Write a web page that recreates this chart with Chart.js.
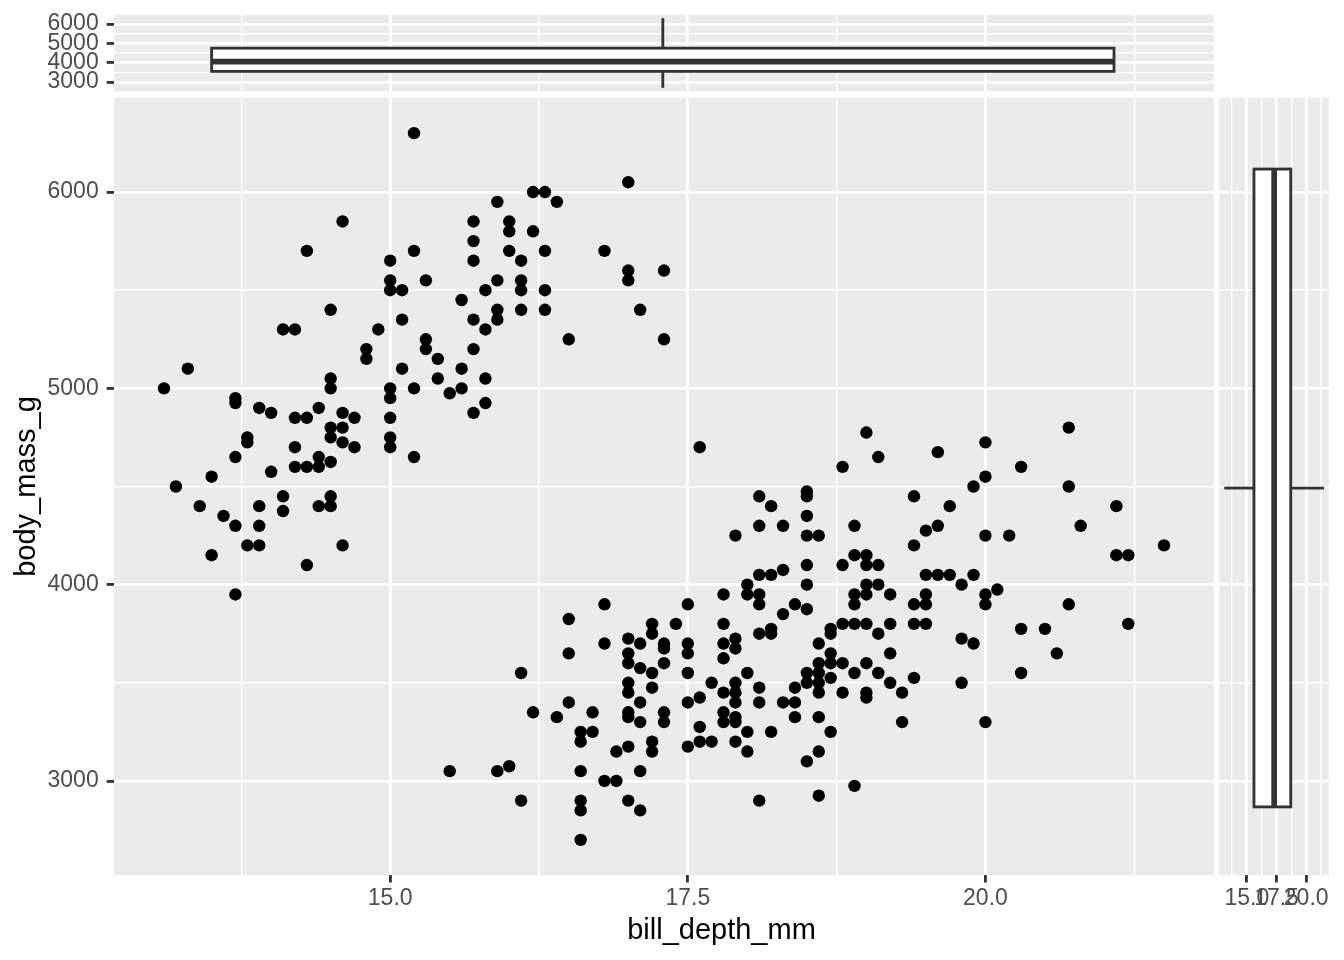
<!DOCTYPE html>
<html lang="en">
<head>
<meta charset="utf-8">
<title>bill_depth_mm / body_mass_g</title>
<script src="https://cdn.jsdelivr.net/npm/chart.js@4.4.1/dist/chart.umd.min.js"></script>
<style>
    html, body { margin: 0; padding: 0; background: #ffffff; }
    .stage { position: relative; width: 1344px; height: 960px; overflow: hidden; }
    .stage canvas { position: absolute; }
</style>
</head>
<body>
<div class="stage">
    <canvas id="topChart" width="1216" height="96" style="left:0;top:0"></canvas>
    <canvas id="mainChart" width="1216" height="864" style="left:0;top:96px"></canvas>
    <canvas id="rightChart" width="128" height="864" style="left:1216px;top:96px"></canvas>
</div>
<script>
// Scatter points (bill depth in mm, body mass in g)
const billDepth = [
    15.2, 14.6, 14.3, 15.2, 15.0, 15.0, 15.0, 15.1, 14.5, 15.1,
    14.1, 14.2, 14.9, 14.8, 14.8, 15.1, 14.5, 14.5, 15.0, 15.0,
    15.2, 13.3, 13.1, 13.7, 13.7, 13.9, 14.0, 14.2, 14.3, 14.4,
    14.6, 14.7, 14.5, 14.6, 14.5, 14.6, 14.7, 15.0, 15.0, 15.0,
    15.2, 13.8, 13.8, 13.7, 14.2, 14.4, 14.4, 14.5, 14.2, 14.3,
    14.0, 13.5, 13.2, 13.4, 13.6, 13.7, 13.9, 13.9, 13.8, 13.9,
    14.1, 14.1, 14.4, 14.5, 14.5, 14.6, 13.5, 14.3, 13.7,
    15.3, 15.3, 15.3, 15.4, 15.4, 15.5, 15.6, 15.6, 15.6, 15.7,
    15.7, 15.7, 15.7, 15.7, 15.7, 15.8, 15.8, 15.8, 15.8, 15.9,
    15.9, 15.9, 15.9, 16.0, 16.0, 16.0, 16.1, 16.1, 16.1, 16.1,
    16.2, 16.3, 16.2, 16.4, 16.3, 16.3, 16.3, 16.5, 16.8, 17.0,
    17.0, 17.0, 17.1, 17.3, 17.3, 17.6,
    16.8, 16.5, 17.2, 17.2, 17.4, 16.8, 17.0, 17.1, 17.3, 17.3,
    16.5, 17.0, 17.0, 17.1, 17.2, 17.3, 16.1, 17.0, 17.0, 17.2,
    17.1, 16.5, 16.2, 16.4, 16.7, 17.0, 17.0, 17.1, 17.3, 17.3,
    16.6, 16.6, 16.7, 16.9, 17.0, 17.2, 17.2, 15.5, 15.9, 16.0,
    16.6, 17.1, 16.8, 16.9, 16.1, 16.6, 16.6, 17.0, 17.1, 16.6,
    18.1, 18.2, 18.5, 18.5, 18.5, 18.1, 18.3, 17.9, 18.5, 18.6,
    18.5, 18.8, 18.1, 18.2, 18.3, 18.0, 18.0, 18.1, 18.1, 18.5,
    17.8, 17.5, 18.4, 18.5, 18.3, 17.8, 18.1, 18.2, 18.2, 18.8,
    18.7, 18.7, 17.8, 17.9, 17.9, 17.5, 17.5, 17.8, 18.6, 18.7,
    18.6, 18.7, 18.8, 17.5, 18.0, 18.5, 18.5, 18.6, 18.6, 18.6,
    18.7, 18.8, 17.7, 17.9, 17.9, 17.9, 17.8, 18.1, 18.4, 17.6,
    17.5, 18.1, 18.3, 18.4, 18.4, 18.6, 17.8, 17.8, 17.9, 17.9,
    17.6, 18.0, 18.2, 18.7, 17.5, 17.6, 17.7, 17.9, 18.0, 18.6,
    18.5, 18.1, 18.6,
    19.0, 19.1, 18.8, 19.6, 20.0, 20.0, 19.9, 19.4, 19.7, 18.9,
    19.5, 19.6, 19.4, 20.0, 18.9, 19.0, 19.0, 19.1, 19.5, 19.6,
    19.7, 19.9, 19.8, 20.1, 19.0, 19.1, 18.9, 18.9, 19.0, 19.2,
    19.5, 19.5, 19.4, 20.0, 20.0, 18.9, 19.0, 19.2, 19.4, 19.5,
    19.1, 19.8, 19.9, 19.2, 19.0, 18.9, 19.1, 19.4, 19.2, 19.8,
    19.0, 19.0, 19.3, 19.3, 20.0, 18.9,
    20.7, 20.3, 20.7, 21.1, 20.8, 20.2, 21.5, 21.1, 21.2, 20.7,
    20.3, 20.5, 21.2, 20.6, 20.3
];
const bodyMass = [
    6300, 5850, 5700, 5700, 5650, 5550, 5500, 5500, 5400, 5350,
    5300, 5300, 5300, 5200, 5150, 5100, 5050, 5000, 5000, 4950,
    5000, 5100, 5000, 4950, 4925, 4900, 4875, 4850, 4850, 4900,
    4875, 4850, 4800, 4800, 4750, 4725, 4700, 4850, 4750, 4700,
    4650, 4750, 4725, 4650, 4700, 4650, 4600, 4625, 4600, 4600,
    4575, 4550, 4500, 4400, 4350, 4300, 4400, 4300, 4200, 4200,
    4450, 4375, 4400, 4450, 4400, 4200, 4150, 4100, 3950,
    5550, 5250, 5200, 5150, 5050, 4975, 5100, 5000, 5450, 5850,
    5750, 5650, 5350, 5200, 4875, 5500, 5300, 5050, 4925, 5950,
    5550, 5400, 5350, 5850, 5800, 5700, 5650, 5550, 5500, 5400,
    6000, 6000, 5800, 5950, 5700, 5500, 5400, 5250, 5700, 6050,
    5600, 5550, 5400, 5600, 5250, 4700,
    3900, 3825, 3800, 3750, 3800, 3700, 3725, 3700, 3700, 3675,
    3650, 3650, 3600, 3575, 3550, 3600, 3550, 3500, 3450, 3475,
    3400, 3400, 3350, 3325, 3350, 3350, 3325, 3300, 3350, 3300,
    3250, 3200, 3250, 3150, 3175, 3200, 3150, 3050, 3050, 3075,
    3050, 3050, 3000, 3000, 2900, 2900, 2850, 2900, 2850, 2700,
    4450, 4400, 4475, 4450, 4350, 4300, 4300, 4250, 4250, 4250,
    4100, 4100, 4050, 4050, 4075, 4000, 3950, 3950, 3900, 4000,
    3950, 3900, 3900, 3875, 3850, 3800, 3750, 3775, 3750, 3800,
    3775, 3750, 3700, 3725, 3675, 3700, 3650, 3625, 3700, 3650,
    3600, 3600, 3600, 3550, 3550, 3550, 3500, 3550, 3500, 3450,
    3525, 3450, 3500, 3500, 3450, 3400, 3450, 3475, 3475, 3425,
    3400, 3400, 3400, 3400, 3325, 3325, 3350, 3300, 3325, 3300,
    3275, 3250, 3250, 3250, 3175, 3200, 3200, 3200, 3150, 3150,
    3100, 2900, 2925,
    4775, 4650, 4600, 4675, 4725, 4550, 4500, 4450, 4400, 4300,
    4275, 4300, 4200, 4250, 4150, 4150, 4100, 4100, 4050, 4050,
    4050, 4050, 4000, 3975, 4000, 4000, 3950, 3900, 3950, 3950,
    3950, 3900, 3900, 3950, 3900, 3800, 3800, 3800, 3800, 3800,
    3750, 3725, 3700, 3650, 3600, 3550, 3550, 3525, 3500, 3500,
    3450, 3425, 3450, 3300, 3300, 2975,
    4800, 4600, 4500, 4400, 4300, 4250, 4200, 4150, 4150, 3900,
    3775, 3775, 3800, 3650, 3550
];

// Axis limits and breaks
const xLimits = [12.68, 21.92];
const yLimits = [2520, 6480];
const xBreaks = [13.75, 15, 16.25, 17.5, 18.75, 20, 21.25];
const xMajor = [15, 17.5, 20];
const yBreaks = [3000, 3500, 4000, 4500, 5000, 5500, 6000];
const yMajor = [3000, 4000, 5000, 6000];
const xTitle = 'bill_depth_mm';
const yTitle = 'body_mass_g';

// Marginal boxes: [min, q1, median, q3, max] and [start, centre, end] across
const topBoxMass = [2700, 3550, 4050, 4750, 6300];
const topBoxSpan = [13.5, 17.29, 21.08];
const rightBoxDepth = [13.1, 15.6, 17.3, 18.7, 21.5];
const rightBoxSpan = [2868, 4492, 6117];

// Styles
const FONT = "'Liberation Sans', Arial, Helvetica, sans-serif";
const PANEL_BG = '#EBEBEB';
const GRID_MAJOR = 2.84;
const GRID_MINOR = 1.42;
const TICK_LEN = 7.3;
const BOX_LINE = 2.84;
// x title is centred under main + right panels together (page px)
const X_TITLE_CENTRE = 721.5;
const X_TITLE_RAISE = 29.3;

function isMajor(value, majors) {
    return majors.some(m => Math.abs(m - value) < 1e-6);
}

// Fix an axis box size so the panels line up between the three canvases
function fixedSize(size) {
    return function(scale) {
        if (scale.isHorizontal()) {
            scale.height = size;
        } else {
            scale.width = size;
        }
        scale.paddingTop = 0;
        scale.paddingBottom = 0;
        scale.paddingLeft = 0;
        scale.paddingRight = 0;
    };
}

function setBreaks(breaks) {
    return function(scale) {
        scale.ticks = breaks.map(v => ({ value: v }));
    };
}

function gridOptions(majors, withTicks) {
    return {
        color: '#FFFFFF',
        lineWidth: ctx => (ctx.tick && isMajor(ctx.tick.value, majors)) ? GRID_MAJOR : GRID_MINOR,
        drawTicks: withTicks,
        tickLength: TICK_LEN,
        tickWidth: GRID_MAJOR,
        tickColor: ctx => (ctx.tick && isMajor(ctx.tick.value, majors)) ? '#333333' : 'rgba(0,0,0,0)'
    };
}

function tickOptions(majors, format, padding) {
    return {
        display: true,
        autoSkip: false,
        maxRotation: 0,
        minRotation: 0,
        padding: padding,
        color: '#4D4D4D',
        font: { family: FONT, size: 23 },
        callback: value => isMajor(value, majors) ? format(value) : ''
    };
}

// Grey panel behind the grid
const panelBackground = {
    id: 'panelBackground',
    beforeDraw(chart) {
        const { ctx, chartArea: a } = chart;
        ctx.save();
        ctx.fillStyle = PANEL_BG;
        ctx.fillRect(a.left, a.top, a.right - a.left, a.bottom - a.top);
        ctx.restore();
    }
};

// x axis title, placed under both lower panels
const xTitlePlugin = {
    id: 'xTitlePlugin',
    afterDraw(chart) {
        const ctx = chart.ctx;
        ctx.save();
        ctx.fillStyle = '#000000';
        ctx.font = '29px ' + FONT;
        ctx.textAlign = 'center';
        ctx.textBaseline = 'middle';
        ctx.fillText(xTitle, X_TITLE_CENTRE, chart.scales.x.bottom - X_TITLE_RAISE);
        ctx.restore();
    }
};

// Boxplot drawn through the chart scales
function drawBox(chart, stats, span, horizontal) {
    const ctx = chart.ctx;
    const along = horizontal ? chart.scales.x : chart.scales.y;
    const across = horizontal ? chart.scales.y : chart.scales.x;
    const [lo, q1, med, q3, hi] = stats.map(v => along.getPixelForValue(v));
    const [a, mid, b] = span.map(v => across.getPixelForValue(v));
    const pt = (al, ac) => horizontal ? [al, ac] : [ac, al];

    function segment(al1, ac1, al2, ac2, width) {
        const p1 = pt(al1, ac1);
        const p2 = pt(al2, ac2);
        ctx.lineWidth = width;
        ctx.beginPath();
        ctx.moveTo(p1[0], p1[1]);
        ctx.lineTo(p2[0], p2[1]);
        ctx.stroke();
    }

    ctx.save();
    ctx.strokeStyle = '#333333';
    // whiskers
    segment(lo, mid, q1, mid, BOX_LINE);
    segment(q3, mid, hi, mid, BOX_LINE);
    // box
    const c1 = pt(q1, a);
    const c2 = pt(q3, b);
    const left = Math.min(c1[0], c2[0]);
    const top = Math.min(c1[1], c2[1]);
    const w = Math.abs(c2[0] - c1[0]);
    const h = Math.abs(c2[1] - c1[1]);
    ctx.fillStyle = '#FFFFFF';
    ctx.fillRect(left, top, w, h);
    ctx.lineWidth = BOX_LINE;
    ctx.strokeRect(left, top, w, h);
    // median
    segment(med, a, med, b, BOX_LINE * 2);
    ctx.restore();
}

const commonPlugins = {
    legend: { display: false },
    tooltip: { enabled: false }
};

// Top marginal: body mass box
new Chart(document.getElementById('topChart'), {
    type: 'scatter',
    data: { datasets: [] },
    options: {
        responsive: false,
        animation: false,
        events: [],
        layout: { autoPadding: false, padding: { top: 14.7, right: 2, left: 0, bottom: 0 } },
        plugins: commonPlugins,
        scales: {
            x: {
                type: 'linear',
                min: xLimits[0],
                max: xLimits[1],
                afterBuildTicks: setBreaks(xBreaks),
                afterFit: fixedSize(4.7),
                grid: gridOptions(xMajor, false),
                border: { display: false },
                ticks: { display: false }
            },
            y: {
                type: 'linear',
                min: yLimits[0],
                max: yLimits[1],
                afterBuildTicks: setBreaks(yBreaks),
                afterFit: fixedSize(114),
                grid: gridOptions(yMajor, true),
                border: { display: false },
                ticks: tickOptions(yMajor, v => String(v), 8)
            }
        }
    },
    plugins: [panelBackground, {
        id: 'topBox',
        afterDatasetsDraw: chart => drawBox(chart, topBoxMass, topBoxSpan, false)
    }]
});

// Main scatter
new Chart(document.getElementById('mainChart'), {
    type: 'scatter',
    data: {
        datasets: [{
            data: billDepth.map((x, i) => ({ x: x, y: bodyMass[i] })),
            backgroundColor: '#000000',
            borderWidth: 0,
            pointRadius: 6.2,
            pointHoverRadius: 6.2
        }]
    },
    options: {
        responsive: false,
        animation: false,
        events: [],
        layout: { autoPadding: false, padding: { top: 1.8, right: 2, left: 0, bottom: 0 } },
        plugins: commonPlugins,
        scales: {
            x: {
                type: 'linear',
                min: xLimits[0],
                max: xLimits[1],
                afterBuildTicks: setBreaks(xBreaks),
                afterFit: fixedSize(84.8),
                grid: gridOptions(xMajor, true),
                border: { display: false },
                ticks: tickOptions(xMajor, v => v.toFixed(1), 2)
            },
            y: {
                type: 'linear',
                min: yLimits[0],
                max: yLimits[1],
                afterBuildTicks: setBreaks(yBreaks),
                afterFit: fixedSize(114),
                grid: gridOptions(yMajor, true),
                border: { display: false },
                ticks: tickOptions(yMajor, v => String(v), 8),
                title: {
                    display: true,
                    text: yTitle,
                    color: '#000000',
                    font: { family: FONT, size: 29 },
                    padding: { top: 9.6, bottom: 0 }
                }
            }
        }
    },
    plugins: [panelBackground, xTitlePlugin]
});

// Right marginal: bill depth box
new Chart(document.getElementById('rightChart'), {
    type: 'scatter',
    data: { datasets: [] },
    options: {
        responsive: false,
        animation: false,
        events: [],
        layout: { autoPadding: false, padding: { top: 1.8, right: 15, left: 3.3, bottom: 0 } },
        plugins: commonPlugins,
        scales: {
            x: {
                type: 'linear',
                min: xLimits[0],
                max: xLimits[1],
                afterBuildTicks: setBreaks(xBreaks),
                afterFit: fixedSize(84.8),
                grid: gridOptions(xMajor, true),
                border: { display: false },
                ticks: tickOptions(xMajor, v => v.toFixed(1), 2)
            },
            y: {
                type: 'linear',
                min: yLimits[0],
                max: yLimits[1],
                afterBuildTicks: setBreaks(yBreaks),
                afterFit: fixedSize(0),
                grid: gridOptions(yMajor, false),
                border: { display: false },
                ticks: { display: false }
            }
        }
    },
    plugins: [panelBackground, {
        id: 'rightBox',
        afterDatasetsDraw: chart => drawBox(chart, rightBoxDepth, rightBoxSpan, true)
    }]
});
</script>
</body>
</html>
